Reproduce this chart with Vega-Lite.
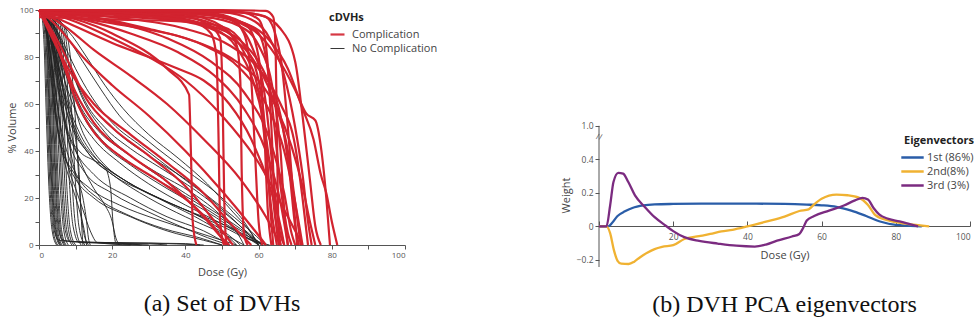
{
  "$schema": "https://vega.github.io/schema/vega-lite/v6.json",
  "background": "white",
  "padding": {"left": 6, "top": 5, "right": 0, "bottom": 8},
  "config": {
    "view": {"stroke": null},
    "font": "Open Sans",
    "axis": {"grid": false, "domainColor": "#555", "tickColor": "#555", "labelColor": "#555", "titleColor": "#444", "labelFont": "Open Sans", "titleFont": "Open Sans", "titleFontWeight": "normal", "labelFontSize": 8, "titleFontSize": 11, "tickSize": 4, "labelPadding": 2},
    "legend": {"labelFont": "Open Sans", "titleFont": "Open Sans", "labelColor": "#444", "titleColor": "#222", "labelFontSize": 11, "titleFontSize": 11, "titleFontWeight": "bold"},
    "title": {"font": "Liberation Serif", "fontSize": 24, "fontWeight": "normal", "color": "#111"}
  },
  "resolve": {"scale": {"color": "independent", "strokeWidth": "independent"}, "legend": {"color": "independent", "strokeWidth": "independent"}},
  "bounds": "flush",
  "spacing": 194,
  "datasets": {
    "dvh": [
{"i":"k1","g":"N","d":0,"v":100},{"i":"k1","g":"N","d":0.8,"v":97},{"i":"k1","g":"N","d":1.4,"v":85},{"i":"k1","g":"N","d":2,"v":55},{"i":"k1","g":"N","d":2.7,"v":25},{"i":"k1","g":"N","d":3.6,"v":6},{"i":"k1","g":"N","d":4.8,"v":0},
{"i":"k2","g":"N","d":0,"v":100},{"i":"k2","g":"N","d":1.1,"v":97},{"i":"k2","g":"N","d":1.7,"v":85},{"i":"k2","g":"N","d":2.3,"v":55},{"i":"k2","g":"N","d":3,"v":25},{"i":"k2","g":"N","d":3.9,"v":6},{"i":"k2","g":"N","d":5.1,"v":0},
{"i":"k3","g":"N","d":0,"v":100},{"i":"k3","g":"N","d":1.4,"v":97},{"i":"k3","g":"N","d":2,"v":85},{"i":"k3","g":"N","d":2.6,"v":55},{"i":"k3","g":"N","d":3.3,"v":25},{"i":"k3","g":"N","d":4.2,"v":6},{"i":"k3","g":"N","d":5.4,"v":2},{"i":"k3","g":"N","d":12,"v":1.2},{"i":"k3","g":"N","d":30,"v":0.8},{"i":"k3","g":"N","d":45,"v":0},
{"i":"k4","g":"N","d":0,"v":100},{"i":"k4","g":"N","d":1.6,"v":97},{"i":"k4","g":"N","d":2.2,"v":85},{"i":"k4","g":"N","d":2.8,"v":55},{"i":"k4","g":"N","d":3.5,"v":25},{"i":"k4","g":"N","d":4.4,"v":6},{"i":"k4","g":"N","d":5.6,"v":0},
{"i":"k5","g":"N","d":0,"v":100},{"i":"k5","g":"N","d":1.8,"v":96},{"i":"k5","g":"N","d":2.4,"v":84},{"i":"k5","g":"N","d":3,"v":55},{"i":"k5","g":"N","d":3.7,"v":25},{"i":"k5","g":"N","d":4.6,"v":6},{"i":"k5","g":"N","d":5.8,"v":0},
{"i":"k6","g":"N","d":0,"v":100},{"i":"k6","g":"N","d":2,"v":97},{"i":"k6","g":"N","d":2.6,"v":85},{"i":"k6","g":"N","d":3.2,"v":55},{"i":"k6","g":"N","d":3.9,"v":25},{"i":"k6","g":"N","d":4.8,"v":6},{"i":"k6","g":"N","d":6,"v":0},
{"i":"k7","g":"N","d":0,"v":100},{"i":"k7","g":"N","d":2.3,"v":96},{"i":"k7","g":"N","d":2.9,"v":85},{"i":"k7","g":"N","d":3.5,"v":55},{"i":"k7","g":"N","d":4.2,"v":25},{"i":"k7","g":"N","d":5.1,"v":6},{"i":"k7","g":"N","d":6.3,"v":0},
{"i":"k8","g":"N","d":0,"v":100},{"i":"k8","g":"N","d":2.6,"v":97},{"i":"k8","g":"N","d":3.2,"v":85},{"i":"k8","g":"N","d":3.8,"v":55},{"i":"k8","g":"N","d":4.5,"v":25},{"i":"k8","g":"N","d":5.4,"v":6},{"i":"k8","g":"N","d":6.6,"v":2},{"i":"k8","g":"N","d":15,"v":1},{"i":"k8","g":"N","d":28,"v":0},
{"i":"k9","g":"N","d":0,"v":100},{"i":"k9","g":"N","d":2.8,"v":96},{"i":"k9","g":"N","d":3.4,"v":85},{"i":"k9","g":"N","d":4,"v":55},{"i":"k9","g":"N","d":4.7,"v":25},{"i":"k9","g":"N","d":5.6,"v":6},{"i":"k9","g":"N","d":6.8,"v":0},
{"i":"k10","g":"N","d":0,"v":100},{"i":"k10","g":"N","d":3,"v":97},{"i":"k10","g":"N","d":3.7,"v":85},{"i":"k10","g":"N","d":4.3,"v":55},{"i":"k10","g":"N","d":5,"v":25},{"i":"k10","g":"N","d":5.9,"v":6},{"i":"k10","g":"N","d":7.1,"v":0},
{"i":"k11","g":"N","d":0,"v":100},{"i":"k11","g":"N","d":3.2,"v":96},{"i":"k11","g":"N","d":4,"v":85},{"i":"k11","g":"N","d":4.6,"v":55},{"i":"k11","g":"N","d":5.3,"v":25},{"i":"k11","g":"N","d":6.2,"v":6},{"i":"k11","g":"N","d":7.4,"v":0},
{"i":"k12","g":"N","d":0,"v":100},{"i":"k12","g":"N","d":3.5,"v":97},{"i":"k12","g":"N","d":4.3,"v":85},{"i":"k12","g":"N","d":5,"v":55},{"i":"k12","g":"N","d":5.8,"v":25},{"i":"k12","g":"N","d":6.8,"v":6},{"i":"k12","g":"N","d":8,"v":0},
{"i":"k13","g":"N","d":0,"v":100},{"i":"k13","g":"N","d":3.8,"v":96},{"i":"k13","g":"N","d":4.7,"v":85},{"i":"k13","g":"N","d":5.4,"v":55},{"i":"k13","g":"N","d":6.2,"v":25},{"i":"k13","g":"N","d":7.2,"v":6},{"i":"k13","g":"N","d":8.5,"v":1.5},{"i":"k13","g":"N","d":20,"v":1},{"i":"k13","g":"N","d":40,"v":0.6},{"i":"k13","g":"N","d":44,"v":0},
{"i":"k14","g":"N","d":0,"v":100},{"i":"k14","g":"N","d":4.2,"v":96},{"i":"k14","g":"N","d":5.1,"v":85},{"i":"k14","g":"N","d":5.8,"v":55},{"i":"k14","g":"N","d":6.6,"v":25},{"i":"k14","g":"N","d":7.6,"v":6},{"i":"k14","g":"N","d":9,"v":0},
{"i":"k15","g":"N","d":0,"v":100},{"i":"k15","g":"N","d":4.5,"v":95},{"i":"k15","g":"N","d":5.5,"v":84},{"i":"k15","g":"N","d":6.3,"v":55},{"i":"k15","g":"N","d":7.1,"v":25},{"i":"k15","g":"N","d":8.1,"v":6},{"i":"k15","g":"N","d":9.5,"v":0},
{"i":"k16","g":"N","d":0,"v":100},{"i":"k16","g":"N","d":5,"v":95},{"i":"k16","g":"N","d":6,"v":83},{"i":"k16","g":"N","d":6.8,"v":55},{"i":"k16","g":"N","d":7.6,"v":25},{"i":"k16","g":"N","d":8.6,"v":6},{"i":"k16","g":"N","d":10,"v":0},
{"i":"k17","g":"N","d":0,"v":100},{"i":"k17","g":"N","d":5.5,"v":95},{"i":"k17","g":"N","d":6.6,"v":82},{"i":"k17","g":"N","d":7.5,"v":55},{"i":"k17","g":"N","d":8.3,"v":27},{"i":"k17","g":"N","d":9.3,"v":8},{"i":"k17","g":"N","d":11,"v":1},{"i":"k17","g":"N","d":30,"v":0.5},{"i":"k17","g":"N","d":35,"v":0},
{"i":"k18","g":"N","d":0,"v":100},{"i":"k18","g":"N","d":6,"v":94},{"i":"k18","g":"N","d":7.2,"v":82},{"i":"k18","g":"N","d":8.2,"v":55},{"i":"k18","g":"N","d":9,"v":28},{"i":"k18","g":"N","d":10,"v":8},{"i":"k18","g":"N","d":11.5,"v":0},
{"i":"k19","g":"N","d":0,"v":100},{"i":"k19","g":"N","d":6.5,"v":94},{"i":"k19","g":"N","d":7.9,"v":80},{"i":"k19","g":"N","d":9,"v":55},{"i":"k19","g":"N","d":9.9,"v":28},{"i":"k19","g":"N","d":10.9,"v":8},{"i":"k19","g":"N","d":12.5,"v":0},
{"i":"k20","g":"N","d":0,"v":100},{"i":"k20","g":"N","d":7,"v":93},{"i":"k20","g":"N","d":8.7,"v":78},{"i":"k20","g":"N","d":10,"v":52},{"i":"k20","g":"N","d":11,"v":25},{"i":"k20","g":"N","d":12,"v":7},{"i":"k20","g":"N","d":13.5,"v":0},
{"i":"b1","g":"N","d":0,"v":100},{"i":"b1","g":"N","d":2,"v":97},{"i":"b1","g":"N","d":4,"v":88},{"i":"b1","g":"N","d":7,"v":70},{"i":"b1","g":"N","d":10,"v":57},{"i":"b1","g":"N","d":15,"v":45},{"i":"b1","g":"N","d":22,"v":35},{"i":"b1","g":"N","d":30,"v":26},{"i":"b1","g":"N","d":40,"v":17},{"i":"b1","g":"N","d":50,"v":9},{"i":"b1","g":"N","d":57,"v":3},{"i":"b1","g":"N","d":61,"v":0},
{"i":"b2","g":"N","d":0,"v":100},{"i":"b2","g":"N","d":2,"v":96},{"i":"b2","g":"N","d":4,"v":85},{"i":"b2","g":"N","d":6,"v":70},{"i":"b2","g":"N","d":9,"v":52},{"i":"b2","g":"N","d":14,"v":38},{"i":"b2","g":"N","d":20,"v":30},{"i":"b2","g":"N","d":30,"v":20},{"i":"b2","g":"N","d":40,"v":12},{"i":"b2","g":"N","d":50,"v":5},{"i":"b2","g":"N","d":56,"v":0},
{"i":"b3","g":"N","d":0,"v":100},{"i":"b3","g":"N","d":2.5,"v":97},{"i":"b3","g":"N","d":5,"v":90},{"i":"b3","g":"N","d":8,"v":78},{"i":"b3","g":"N","d":12,"v":62},{"i":"b3","g":"N","d":18,"v":48},{"i":"b3","g":"N","d":25,"v":38},{"i":"b3","g":"N","d":35,"v":27},{"i":"b3","g":"N","d":45,"v":17},{"i":"b3","g":"N","d":55,"v":7},{"i":"b3","g":"N","d":61,"v":0},
{"i":"b4","g":"N","d":0,"v":100},{"i":"b4","g":"N","d":2,"v":96},{"i":"b4","g":"N","d":3.5,"v":85},{"i":"b4","g":"N","d":5,"v":68},{"i":"b4","g":"N","d":7,"v":52},{"i":"b4","g":"N","d":10,"v":40},{"i":"b4","g":"N","d":15,"v":30},{"i":"b4","g":"N","d":25,"v":20},{"i":"b4","g":"N","d":35,"v":12},{"i":"b4","g":"N","d":45,"v":6},{"i":"b4","g":"N","d":52,"v":0},
{"i":"b5","g":"N","d":0,"v":100},{"i":"b5","g":"N","d":3,"v":95},{"i":"b5","g":"N","d":6,"v":85},{"i":"b5","g":"N","d":10,"v":70},{"i":"b5","g":"N","d":15,"v":58},{"i":"b5","g":"N","d":22,"v":47},{"i":"b5","g":"N","d":30,"v":38},{"i":"b5","g":"N","d":40,"v":28},{"i":"b5","g":"N","d":50,"v":16},{"i":"b5","g":"N","d":57,"v":7},{"i":"b5","g":"N","d":62,"v":0},
{"i":"b6","g":"N","d":0,"v":100},{"i":"b6","g":"N","d":2,"v":95},{"i":"b6","g":"N","d":4,"v":80},{"i":"b6","g":"N","d":6,"v":60},{"i":"b6","g":"N","d":8,"v":45},{"i":"b6","g":"N","d":12,"v":32},{"i":"b6","g":"N","d":20,"v":22},{"i":"b6","g":"N","d":30,"v":14},{"i":"b6","g":"N","d":40,"v":7},{"i":"b6","g":"N","d":48,"v":2},{"i":"b6","g":"N","d":52,"v":0},
{"i":"b7","g":"N","d":0,"v":100},{"i":"b7","g":"N","d":3,"v":96},{"i":"b7","g":"N","d":6,"v":88},{"i":"b7","g":"N","d":10,"v":75},{"i":"b7","g":"N","d":14,"v":64},{"i":"b7","g":"N","d":20,"v":52},{"i":"b7","g":"N","d":28,"v":42},{"i":"b7","g":"N","d":38,"v":30},{"i":"b7","g":"N","d":48,"v":18},{"i":"b7","g":"N","d":55,"v":8},{"i":"b7","g":"N","d":60,"v":0},
{"i":"b8","g":"N","d":0,"v":100},{"i":"b8","g":"N","d":2,"v":94},{"i":"b8","g":"N","d":3.5,"v":75},{"i":"b8","g":"N","d":5,"v":52},{"i":"b8","g":"N","d":7,"v":38},{"i":"b8","g":"N","d":10,"v":28},{"i":"b8","g":"N","d":15,"v":20},{"i":"b8","g":"N","d":25,"v":12},{"i":"b8","g":"N","d":35,"v":6},{"i":"b8","g":"N","d":45,"v":2},{"i":"b8","g":"N","d":50,"v":0},
{"i":"b9","g":"N","d":0,"v":100},{"i":"b9","g":"N","d":2.5,"v":96},{"i":"b9","g":"N","d":5,"v":86},{"i":"b9","g":"N","d":8,"v":70},{"i":"b9","g":"N","d":12,"v":55},{"i":"b9","g":"N","d":17,"v":44},{"i":"b9","g":"N","d":25,"v":34},{"i":"b9","g":"N","d":35,"v":24},{"i":"b9","g":"N","d":45,"v":15},{"i":"b9","g":"N","d":52,"v":8},{"i":"b9","g":"N","d":58,"v":2},{"i":"b9","g":"N","d":60,"v":0},
{"i":"b10","g":"N","d":0,"v":100},{"i":"b10","g":"N","d":3,"v":97},{"i":"b10","g":"N","d":7,"v":90},{"i":"b10","g":"N","d":12,"v":78},{"i":"b10","g":"N","d":17,"v":66},{"i":"b10","g":"N","d":22,"v":55},{"i":"b10","g":"N","d":30,"v":44},{"i":"b10","g":"N","d":40,"v":32},{"i":"b10","g":"N","d":50,"v":20},{"i":"b10","g":"N","d":56,"v":10},{"i":"b10","g":"N","d":60,"v":0},
{"i":"b11","g":"N","d":0,"v":100},{"i":"b11","g":"N","d":2,"v":95},{"i":"b11","g":"N","d":4,"v":82},{"i":"b11","g":"N","d":6,"v":66},{"i":"b11","g":"N","d":9,"v":50},{"i":"b11","g":"N","d":13,"v":40},{"i":"b11","g":"N","d":20,"v":30},{"i":"b11","g":"N","d":30,"v":22},{"i":"b11","g":"N","d":40,"v":15},{"i":"b11","g":"N","d":50,"v":8},{"i":"b11","g":"N","d":58,"v":2},{"i":"b11","g":"N","d":63,"v":0},
{"i":"b12","g":"N","d":0,"v":100},{"i":"b12","g":"N","d":2,"v":93},{"i":"b12","g":"N","d":3,"v":75},{"i":"b12","g":"N","d":4.5,"v":55},{"i":"b12","g":"N","d":6,"v":42},{"i":"b12","g":"N","d":9,"v":32},{"i":"b12","g":"N","d":14,"v":24},{"i":"b12","g":"N","d":22,"v":17},{"i":"b12","g":"N","d":32,"v":11},{"i":"b12","g":"N","d":42,"v":6},{"i":"b12","g":"N","d":50,"v":2},{"i":"b12","g":"N","d":54,"v":0},
{"i":"b13","g":"N","d":0,"v":100},{"i":"b13","g":"N","d":3,"v":96},{"i":"b13","g":"N","d":6,"v":87},{"i":"b13","g":"N","d":9,"v":74},{"i":"b13","g":"N","d":13,"v":60},{"i":"b13","g":"N","d":18,"v":50},{"i":"b13","g":"N","d":25,"v":41},{"i":"b13","g":"N","d":33,"v":33},{"i":"b13","g":"N","d":43,"v":23},{"i":"b13","g":"N","d":52,"v":12},{"i":"b13","g":"N","d":58,"v":4},{"i":"b13","g":"N","d":61,"v":0},
{"i":"b14","g":"N","d":0,"v":100},{"i":"b14","g":"N","d":2,"v":96},{"i":"b14","g":"N","d":5,"v":86},{"i":"b14","g":"N","d":8,"v":72},{"i":"b14","g":"N","d":11,"v":60},{"i":"b14","g":"N","d":16,"v":49},{"i":"b14","g":"N","d":23,"v":40},{"i":"b14","g":"N","d":32,"v":31},{"i":"b14","g":"N","d":42,"v":22},{"i":"b14","g":"N","d":50,"v":12},{"i":"b14","g":"N","d":55,"v":3},{"i":"b14","g":"N","d":56,"v":0},
{"i":"b15","g":"N","d":0,"v":100},{"i":"b15","g":"N","d":2.5,"v":95},{"i":"b15","g":"N","d":4,"v":84},{"i":"b15","g":"N","d":6,"v":70},{"i":"b15","g":"N","d":8,"v":58},{"i":"b15","g":"N","d":11,"v":46},{"i":"b15","g":"N","d":16,"v":36},{"i":"b15","g":"N","d":24,"v":27},{"i":"b15","g":"N","d":34,"v":19},{"i":"b15","g":"N","d":44,"v":12},{"i":"b15","g":"N","d":52,"v":4},{"i":"b15","g":"N","d":55,"v":0},
{"i":"b16","g":"N","d":0,"v":100},{"i":"b16","g":"N","d":3,"v":97},{"i":"b16","g":"N","d":8,"v":91},{"i":"b16","g":"N","d":13,"v":80},{"i":"b16","g":"N","d":18,"v":68},{"i":"b16","g":"N","d":23,"v":58},{"i":"b16","g":"N","d":30,"v":47},{"i":"b16","g":"N","d":38,"v":37},{"i":"b16","g":"N","d":46,"v":26},{"i":"b16","g":"N","d":53,"v":14},{"i":"b16","g":"N","d":58,"v":5},{"i":"b16","g":"N","d":60,"v":0},
{"i":"b17","g":"N","d":0,"v":100},{"i":"b17","g":"N","d":2,"v":95},{"i":"b17","g":"N","d":4,"v":85},{"i":"b17","g":"N","d":6,"v":72},{"i":"b17","g":"N","d":8,"v":60},{"i":"b17","g":"N","d":11,"v":48},{"i":"b17","g":"N","d":15,"v":38},{"i":"b17","g":"N","d":22,"v":29},{"i":"b17","g":"N","d":30,"v":22},{"i":"b17","g":"N","d":40,"v":15},{"i":"b17","g":"N","d":50,"v":9},{"i":"b17","g":"N","d":58,"v":3},{"i":"b17","g":"N","d":62,"v":0},
{"i":"b18","g":"N","d":0,"v":100},{"i":"b18","g":"N","d":3,"v":96},{"i":"b18","g":"N","d":5,"v":88},{"i":"b18","g":"N","d":7,"v":76},{"i":"b18","g":"N","d":9,"v":64},{"i":"b18","g":"N","d":11,"v":52},{"i":"b18","g":"N","d":14,"v":42},{"i":"b18","g":"N","d":18,"v":34},{"i":"b18","g":"N","d":25,"v":26},{"i":"b18","g":"N","d":35,"v":18},{"i":"b18","g":"N","d":45,"v":10},{"i":"b18","g":"N","d":52,"v":3},{"i":"b18","g":"N","d":54,"v":0},
{"i":"b19","g":"N","d":0,"v":100},{"i":"b19","g":"N","d":2,"v":96},{"i":"b19","g":"N","d":4,"v":88},{"i":"b19","g":"N","d":6,"v":78},{"i":"b19","g":"N","d":9,"v":66},{"i":"b19","g":"N","d":12,"v":56},{"i":"b19","g":"N","d":17,"v":45},{"i":"b19","g":"N","d":24,"v":36},{"i":"b19","g":"N","d":32,"v":28},{"i":"b19","g":"N","d":42,"v":19},{"i":"b19","g":"N","d":50,"v":11},{"i":"b19","g":"N","d":57,"v":4},{"i":"b19","g":"N","d":60,"v":0},
{"i":"b20","g":"N","d":0,"v":100},{"i":"b20","g":"N","d":1.5,"v":95},{"i":"b20","g":"N","d":3,"v":82},{"i":"b20","g":"N","d":4.5,"v":65},{"i":"b20","g":"N","d":6,"v":50},{"i":"b20","g":"N","d":8,"v":38},{"i":"b20","g":"N","d":11,"v":28},{"i":"b20","g":"N","d":16,"v":20},{"i":"b20","g":"N","d":24,"v":13},{"i":"b20","g":"N","d":34,"v":7},{"i":"b20","g":"N","d":44,"v":3},{"i":"b20","g":"N","d":50,"v":0},
{"i":"c1","g":"N","d":0,"v":100},{"i":"c1","g":"N","d":2,"v":96},{"i":"c1","g":"N","d":4,"v":85},{"i":"c1","g":"N","d":6,"v":65},{"i":"c1","g":"N","d":8,"v":45},{"i":"c1","g":"N","d":10,"v":30},{"i":"c1","g":"N","d":12,"v":20},{"i":"c1","g":"N","d":13,"v":10},{"i":"c1","g":"N","d":13.5,"v":3},{"i":"c1","g":"N","d":14,"v":0},
{"i":"c2","g":"N","d":0,"v":100},{"i":"c2","g":"N","d":2,"v":95},{"i":"c2","g":"N","d":4,"v":82},{"i":"c2","g":"N","d":6,"v":62},{"i":"c2","g":"N","d":8,"v":48},{"i":"c2","g":"N","d":11,"v":40},{"i":"c2","g":"N","d":15,"v":36},{"i":"c2","g":"N","d":18,"v":33},{"i":"c2","g":"N","d":19.5,"v":25},{"i":"c2","g":"N","d":20.3,"v":8},{"i":"c2","g":"N","d":21,"v":1},{"i":"c2","g":"N","d":30,"v":0},
{"i":"c3","g":"N","d":0,"v":100},{"i":"c3","g":"N","d":3,"v":94},{"i":"c3","g":"N","d":5,"v":80},{"i":"c3","g":"N","d":7,"v":62},{"i":"c3","g":"N","d":9,"v":46},{"i":"c3","g":"N","d":12,"v":33},{"i":"c3","g":"N","d":15,"v":24},{"i":"c3","g":"N","d":18,"v":17},{"i":"c3","g":"N","d":20,"v":10},{"i":"c3","g":"N","d":21,"v":3},{"i":"c3","g":"N","d":22,"v":0},
{"i":"c4","g":"N","d":0,"v":100},{"i":"c4","g":"N","d":2,"v":93},{"i":"c4","g":"N","d":4,"v":72},{"i":"c4","g":"N","d":6,"v":48},{"i":"c4","g":"N","d":8,"v":33},{"i":"c4","g":"N","d":10,"v":24},{"i":"c4","g":"N","d":12,"v":15},{"i":"c4","g":"N","d":14,"v":6},{"i":"c4","g":"N","d":16,"v":1},{"i":"c4","g":"N","d":25,"v":0},
{"i":"c5","g":"N","d":0,"v":100},{"i":"c5","g":"N","d":2,"v":90},{"i":"c5","g":"N","d":3.5,"v":70},{"i":"c5","g":"N","d":5,"v":50},{"i":"c5","g":"N","d":7,"v":35},{"i":"c5","g":"N","d":9,"v":25},{"i":"c5","g":"N","d":11,"v":15},{"i":"c5","g":"N","d":12.5,"v":5},{"i":"c5","g":"N","d":13,"v":0},
{"i":"c6","g":"N","d":0,"v":100},{"i":"c6","g":"N","d":2.5,"v":95},{"i":"c6","g":"N","d":5,"v":85},{"i":"c6","g":"N","d":7,"v":70},{"i":"c6","g":"N","d":9,"v":55},{"i":"c6","g":"N","d":10,"v":45},{"i":"c6","g":"N","d":11,"v":30},{"i":"c6","g":"N","d":11.6,"v":10},{"i":"c6","g":"N","d":12,"v":0},
{"i":"r1","g":"C","d":0,"v":100},{"i":"r1","g":"C","d":50,"v":100},{"i":"r1","g":"C","d":62,"v":99.6},{"i":"r1","g":"C","d":64,"v":97},{"i":"r1","g":"C","d":64.6,"v":85},{"i":"r1","g":"C","d":65,"v":50},{"i":"r1","g":"C","d":65.4,"v":10},{"i":"r1","g":"C","d":66,"v":0},
{"i":"r2","g":"C","d":0,"v":100},{"i":"r2","g":"C","d":40,"v":99.5},{"i":"r2","g":"C","d":55,"v":99},{"i":"r2","g":"C","d":60,"v":96},{"i":"r2","g":"C","d":62,"v":85},{"i":"r2","g":"C","d":63.5,"v":50},{"i":"r2","g":"C","d":64.5,"v":15},{"i":"r2","g":"C","d":65.5,"v":0},
{"i":"r3","g":"C","d":0,"v":100},{"i":"r3","g":"C","d":30,"v":99},{"i":"r3","g":"C","d":50,"v":97.5},{"i":"r3","g":"C","d":57,"v":93},{"i":"r3","g":"C","d":60,"v":80},{"i":"r3","g":"C","d":61.5,"v":50},{"i":"r3","g":"C","d":62.5,"v":15},{"i":"r3","g":"C","d":63.5,"v":0},
{"i":"r4","g":"C","d":0,"v":100},{"i":"r4","g":"C","d":40,"v":99},{"i":"r4","g":"C","d":52,"v":96},{"i":"r4","g":"C","d":58,"v":85},{"i":"r4","g":"C","d":62,"v":60},{"i":"r4","g":"C","d":64,"v":30},{"i":"r4","g":"C","d":65.5,"v":8},{"i":"r4","g":"C","d":67,"v":0},
{"i":"r5","g":"C","d":0,"v":99},{"i":"r5","g":"C","d":45,"v":97},{"i":"r5","g":"C","d":55,"v":93},{"i":"r5","g":"C","d":60,"v":85},{"i":"r5","g":"C","d":64,"v":65},{"i":"r5","g":"C","d":66,"v":40},{"i":"r5","g":"C","d":67,"v":15},{"i":"r5","g":"C","d":68,"v":0},
{"i":"r6","g":"C","d":0,"v":100},{"i":"r6","g":"C","d":30,"v":98},{"i":"r6","g":"C","d":45,"v":94},{"i":"r6","g":"C","d":55,"v":87},{"i":"r6","g":"C","d":62,"v":72},{"i":"r6","g":"C","d":66,"v":55},{"i":"r6","g":"C","d":68.5,"v":30},{"i":"r6","g":"C","d":70,"v":8},{"i":"r6","g":"C","d":71,"v":0},
{"i":"r7","g":"C","d":0,"v":100},{"i":"r7","g":"C","d":20,"v":97},{"i":"r7","g":"C","d":40,"v":92},{"i":"r7","g":"C","d":52,"v":85},{"i":"r7","g":"C","d":60,"v":75},{"i":"r7","g":"C","d":66,"v":60},{"i":"r7","g":"C","d":70,"v":42},{"i":"r7","g":"C","d":72,"v":20},{"i":"r7","g":"C","d":73.5,"v":0},
{"i":"r8","g":"C","d":0,"v":100},{"i":"r8","g":"C","d":40,"v":99},{"i":"r8","g":"C","d":55,"v":95},{"i":"r8","g":"C","d":63,"v":87},{"i":"r8","g":"C","d":68,"v":75},{"i":"r8","g":"C","d":72,"v":58},{"i":"r8","g":"C","d":75,"v":45},{"i":"r8","g":"C","d":77,"v":30},{"i":"r8","g":"C","d":78.5,"v":22},{"i":"r8","g":"C","d":80,"v":10},{"i":"r8","g":"C","d":81.5,"v":0},
{"i":"r9","g":"C","d":0,"v":100},{"i":"r9","g":"C","d":45,"v":98},{"i":"r9","g":"C","d":58,"v":92},{"i":"r9","g":"C","d":65,"v":80},{"i":"r9","g":"C","d":70,"v":66},{"i":"r9","g":"C","d":73,"v":56},{"i":"r9","g":"C","d":75.5,"v":53},{"i":"r9","g":"C","d":77,"v":42},{"i":"r9","g":"C","d":78.5,"v":20},{"i":"r9","g":"C","d":79.5,"v":0},
{"i":"r10","g":"C","d":0,"v":100},{"i":"r10","g":"C","d":50,"v":99},{"i":"r10","g":"C","d":58,"v":96},{"i":"r10","g":"C","d":63,"v":88},{"i":"r10","g":"C","d":67,"v":72},{"i":"r10","g":"C","d":70,"v":50},{"i":"r10","g":"C","d":72,"v":30},{"i":"r10","g":"C","d":73.5,"v":10},{"i":"r10","g":"C","d":74.5,"v":0},
{"i":"r11","g":"C","d":0,"v":98},{"i":"r11","g":"C","d":35,"v":96},{"i":"r11","g":"C","d":50,"v":90},{"i":"r11","g":"C","d":58,"v":80},{"i":"r11","g":"C","d":64,"v":62},{"i":"r11","g":"C","d":68,"v":40},{"i":"r11","g":"C","d":70,"v":18},{"i":"r11","g":"C","d":71.5,"v":0},
{"i":"r12","g":"C","d":0,"v":100},{"i":"r12","g":"C","d":30,"v":98},{"i":"r12","g":"C","d":42,"v":95},{"i":"r12","g":"C","d":47,"v":90},{"i":"r12","g":"C","d":48.5,"v":80},{"i":"r12","g":"C","d":49,"v":50},{"i":"r12","g":"C","d":49.5,"v":10},{"i":"r12","g":"C","d":50.5,"v":0},
{"i":"r13","g":"C","d":0,"v":99},{"i":"r13","g":"C","d":40,"v":97},{"i":"r13","g":"C","d":46,"v":94},{"i":"r13","g":"C","d":49.5,"v":88},{"i":"r13","g":"C","d":50.2,"v":60},{"i":"r13","g":"C","d":50.6,"v":20},{"i":"r13","g":"C","d":51.2,"v":0},
{"i":"r14","g":"C","d":0,"v":100},{"i":"r14","g":"C","d":40,"v":98},{"i":"r14","g":"C","d":50,"v":93},{"i":"r14","g":"C","d":54,"v":85},{"i":"r14","g":"C","d":55,"v":70},{"i":"r14","g":"C","d":55.4,"v":30},{"i":"r14","g":"C","d":56,"v":5},{"i":"r14","g":"C","d":57,"v":0},
{"i":"r15","g":"C","d":0,"v":100},{"i":"r15","g":"C","d":20,"v":90},{"i":"r15","g":"C","d":35,"v":75},{"i":"r15","g":"C","d":41,"v":64},{"i":"r15","g":"C","d":41.5,"v":40},{"i":"r15","g":"C","d":42,"v":10},{"i":"r15","g":"C","d":43,"v":0},
{"i":"r16","g":"C","d":0,"v":100},{"i":"r16","g":"C","d":10,"v":95},{"i":"r16","g":"C","d":20,"v":88},{"i":"r16","g":"C","d":30,"v":80},{"i":"r16","g":"C","d":40,"v":70},{"i":"r16","g":"C","d":50,"v":55},{"i":"r16","g":"C","d":60,"v":35},{"i":"r16","g":"C","d":68,"v":12},{"i":"r16","g":"C","d":72,"v":0},
{"i":"r17","g":"C","d":0,"v":100},{"i":"r17","g":"C","d":8,"v":92},{"i":"r17","g":"C","d":15,"v":83},{"i":"r17","g":"C","d":25,"v":72},{"i":"r17","g":"C","d":35,"v":60},{"i":"r17","g":"C","d":45,"v":45},{"i":"r17","g":"C","d":55,"v":28},{"i":"r17","g":"C","d":62,"v":12},{"i":"r17","g":"C","d":66,"v":0},
{"i":"r18","g":"C","d":0,"v":100},{"i":"r18","g":"C","d":5,"v":93},{"i":"r18","g":"C","d":12,"v":80},{"i":"r18","g":"C","d":20,"v":68},{"i":"r18","g":"C","d":30,"v":55},{"i":"r18","g":"C","d":40,"v":40},{"i":"r18","g":"C","d":50,"v":23},{"i":"r18","g":"C","d":58,"v":8},{"i":"r18","g":"C","d":62,"v":0},
{"i":"r19","g":"C","d":0,"v":100},{"i":"r19","g":"C","d":3,"v":90},{"i":"r19","g":"C","d":8,"v":75},{"i":"r19","g":"C","d":15,"v":60},{"i":"r19","g":"C","d":25,"v":47},{"i":"r19","g":"C","d":35,"v":35},{"i":"r19","g":"C","d":45,"v":22},{"i":"r19","g":"C","d":53,"v":8},{"i":"r19","g":"C","d":58,"v":0},
{"i":"r20","g":"C","d":0,"v":100},{"i":"r20","g":"C","d":2,"v":95},{"i":"r20","g":"C","d":5,"v":85},{"i":"r20","g":"C","d":10,"v":65},{"i":"r20","g":"C","d":15,"v":52},{"i":"r20","g":"C","d":25,"v":38},{"i":"r20","g":"C","d":35,"v":27},{"i":"r20","g":"C","d":45,"v":12},{"i":"r20","g":"C","d":50,"v":3},{"i":"r20","g":"C","d":52,"v":0},
{"i":"r21","g":"C","d":0,"v":100},{"i":"r21","g":"C","d":4,"v":90},{"i":"r21","g":"C","d":8,"v":78},{"i":"r21","g":"C","d":13,"v":62},{"i":"r21","g":"C","d":20,"v":50},{"i":"r21","g":"C","d":30,"v":38},{"i":"r21","g":"C","d":40,"v":25},{"i":"r21","g":"C","d":48,"v":10},{"i":"r21","g":"C","d":53,"v":0},
{"i":"r22","g":"C","d":0,"v":100},{"i":"r22","g":"C","d":3,"v":92},{"i":"r22","g":"C","d":6,"v":80},{"i":"r22","g":"C","d":10,"v":62},{"i":"r22","g":"C","d":15,"v":48},{"i":"r22","g":"C","d":22,"v":38},{"i":"r22","g":"C","d":32,"v":28},{"i":"r22","g":"C","d":42,"v":17},{"i":"r22","g":"C","d":49,"v":5},{"i":"r22","g":"C","d":51,"v":0},
{"i":"r23","g":"C","d":0,"v":100},{"i":"r23","g":"C","d":15,"v":97},{"i":"r23","g":"C","d":30,"v":92},{"i":"r23","g":"C","d":45,"v":85},{"i":"r23","g":"C","d":55,"v":75},{"i":"r23","g":"C","d":62,"v":60},{"i":"r23","g":"C","d":67,"v":40},{"i":"r23","g":"C","d":70,"v":18},{"i":"r23","g":"C","d":72,"v":0},
{"i":"r24","g":"C","d":0,"v":100},{"i":"r24","g":"C","d":20,"v":95},{"i":"r24","g":"C","d":35,"v":88},{"i":"r24","g":"C","d":47,"v":78},{"i":"r24","g":"C","d":56,"v":65},{"i":"r24","g":"C","d":63,"v":45},{"i":"r24","g":"C","d":67,"v":22},{"i":"r24","g":"C","d":69,"v":5},{"i":"r24","g":"C","d":70,"v":0},
{"i":"r25","g":"C","d":0,"v":100},{"i":"r25","g":"C","d":10,"v":93},{"i":"r25","g":"C","d":20,"v":86},{"i":"r25","g":"C","d":30,"v":80},{"i":"r25","g":"C","d":38,"v":75},{"i":"r25","g":"C","d":45,"v":70},{"i":"r25","g":"C","d":52,"v":60},{"i":"r25","g":"C","d":58,"v":45},{"i":"r25","g":"C","d":63,"v":25},{"i":"r25","g":"C","d":66,"v":8},{"i":"r25","g":"C","d":67,"v":0},
{"i":"r26","g":"C","d":0,"v":100},{"i":"r26","g":"C","d":12,"v":96},{"i":"r26","g":"C","d":25,"v":90},{"i":"r26","g":"C","d":38,"v":82},{"i":"r26","g":"C","d":48,"v":72},{"i":"r26","g":"C","d":56,"v":58},{"i":"r26","g":"C","d":62,"v":40},{"i":"r26","g":"C","d":66,"v":18},{"i":"r26","g":"C","d":68,"v":0},
{"i":"r27","g":"C","d":0,"v":100},{"i":"r27","g":"C","d":25,"v":99},{"i":"r27","g":"C","d":45,"v":98},{"i":"r27","g":"C","d":55,"v":95},{"i":"r27","g":"C","d":60,"v":90},{"i":"r27","g":"C","d":62,"v":80},{"i":"r27","g":"C","d":64,"v":55},{"i":"r27","g":"C","d":66,"v":25},{"i":"r27","g":"C","d":68,"v":5},{"i":"r27","g":"C","d":69,"v":0},
{"i":"r28","g":"C","d":0,"v":100},{"i":"r28","g":"C","d":30,"v":99.5},{"i":"r28","g":"C","d":55,"v":99},{"i":"r28","g":"C","d":62,"v":97},{"i":"r28","g":"C","d":66,"v":80},{"i":"r28","g":"C","d":68,"v":50},{"i":"r28","g":"C","d":69.5,"v":20},{"i":"r28","g":"C","d":70.5,"v":0},
{"i":"r29","g":"C","d":0,"v":97},{"i":"r29","g":"C","d":20,"v":96},{"i":"r29","g":"C","d":40,"v":95},{"i":"r29","g":"C","d":50,"v":93},{"i":"r29","g":"C","d":56,"v":85},{"i":"r29","g":"C","d":60,"v":70},{"i":"r29","g":"C","d":62,"v":45},{"i":"r29","g":"C","d":63,"v":20},{"i":"r29","g":"C","d":64,"v":0},
{"i":"r30","g":"C","d":0,"v":100},{"i":"r30","g":"C","d":45,"v":99},{"i":"r30","g":"C","d":52,"v":97},{"i":"r30","g":"C","d":56,"v":90},{"i":"r30","g":"C","d":58,"v":70},{"i":"r30","g":"C","d":59,"v":40},{"i":"r30","g":"C","d":60,"v":10},{"i":"r30","g":"C","d":61,"v":0},
{"i":"r31","g":"C","d":0,"v":100},{"i":"r31","g":"C","d":40,"v":97},{"i":"r31","g":"C","d":50,"v":92},{"i":"r31","g":"C","d":56,"v":82},{"i":"r31","g":"C","d":60,"v":65},{"i":"r31","g":"C","d":62,"v":40},{"i":"r31","g":"C","d":63.5,"v":15},{"i":"r31","g":"C","d":65,"v":0},
{"i":"r32","g":"C","d":0,"v":99},{"i":"r32","g":"C","d":20,"v":98},{"i":"r32","g":"C","d":38,"v":96},{"i":"r32","g":"C","d":48,"v":92},{"i":"r32","g":"C","d":54,"v":84},{"i":"r32","g":"C","d":58,"v":72},{"i":"r32","g":"C","d":61,"v":55},{"i":"r32","g":"C","d":63,"v":35},{"i":"r32","g":"C","d":64.5,"v":12},{"i":"r32","g":"C","d":66,"v":0},
{"i":"r33","g":"C","d":0,"v":100},{"i":"r33","g":"C","d":10,"v":97},{"i":"r33","g":"C","d":25,"v":93},{"i":"r33","g":"C","d":40,"v":88},{"i":"r33","g":"C","d":52,"v":80},{"i":"r33","g":"C","d":60,"v":70},{"i":"r33","g":"C","d":65,"v":58},{"i":"r33","g":"C","d":69,"v":42},{"i":"r33","g":"C","d":72,"v":25},{"i":"r33","g":"C","d":74,"v":10},{"i":"r33","g":"C","d":75.5,"v":0},
{"i":"r34","g":"C","d":0,"v":100},{"i":"r34","g":"C","d":50,"v":99.5},{"i":"r34","g":"C","d":60,"v":98},{"i":"r34","g":"C","d":66,"v":92},{"i":"r34","g":"C","d":70,"v":78},{"i":"r34","g":"C","d":72,"v":55},{"i":"r34","g":"C","d":74,"v":28},{"i":"r34","g":"C","d":75.5,"v":8},{"i":"r34","g":"C","d":77,"v":0}
    ],
    "eig": [
{"s":"1st (86%)","d":0,"w":0},{"s":"1st (86%)","d":2.5,"w":0},{"s":"1st (86%)","d":3.5,"w":0.02},{"s":"1st (86%)","d":5,"w":0.062},{"s":"1st (86%)","d":7,"w":0.09},{"s":"1st (86%)","d":9,"w":0.11},{"s":"1st (86%)","d":12,"w":0.125},{"s":"1st (86%)","d":15,"w":0.131},{"s":"1st (86%)","d":20,"w":0.134},{"s":"1st (86%)","d":30,"w":0.136},{"s":"1st (86%)","d":40,"w":0.136},{"s":"1st (86%)","d":50,"w":0.134},{"s":"1st (86%)","d":56,"w":0.13},{"s":"1st (86%)","d":60,"w":0.126},{"s":"1st (86%)","d":64,"w":0.117},{"s":"1st (86%)","d":68,"w":0.094},{"s":"1st (86%)","d":72,"w":0.062},{"s":"1st (86%)","d":76,"w":0.028},{"s":"1st (86%)","d":80,"w":0.009},{"s":"1st (86%)","d":84,"w":0.004},{"s":"1st (86%)","d":87,"w":0.001},
{"s":"2nd(8%)","d":0,"w":0},{"s":"2nd(8%)","d":2,"w":0},{"s":"2nd(8%)","d":3,"w":-0.04},{"s":"2nd(8%)","d":4,"w":-0.14},{"s":"2nd(8%)","d":5,"w":-0.205},{"s":"2nd(8%)","d":6,"w":-0.222},{"s":"2nd(8%)","d":8,"w":-0.224},{"s":"2nd(8%)","d":9.5,"w":-0.21},{"s":"2nd(8%)","d":11,"w":-0.185},{"s":"2nd(8%)","d":13,"w":-0.157},{"s":"2nd(8%)","d":15,"w":-0.135},{"s":"2nd(8%)","d":17,"w":-0.122},{"s":"2nd(8%)","d":20,"w":-0.112},{"s":"2nd(8%)","d":23,"w":-0.075},{"s":"2nd(8%)","d":27,"w":-0.058},{"s":"2nd(8%)","d":30,"w":-0.045},{"s":"2nd(8%)","d":33,"w":-0.03},{"s":"2nd(8%)","d":36,"w":-0.02},{"s":"2nd(8%)","d":40,"w":0},{"s":"2nd(8%)","d":45,"w":0.028},{"s":"2nd(8%)","d":50,"w":0.058},{"s":"2nd(8%)","d":54,"w":0.092},{"s":"2nd(8%)","d":56.5,"w":0.102},{"s":"2nd(8%)","d":58,"w":0.132},{"s":"2nd(8%)","d":60,"w":0.165},{"s":"2nd(8%)","d":64,"w":0.19},{"s":"2nd(8%)","d":67,"w":0.186},{"s":"2nd(8%)","d":70,"w":0.172},{"s":"2nd(8%)","d":72.5,"w":0.128},{"s":"2nd(8%)","d":74.5,"w":0.068},{"s":"2nd(8%)","d":78,"w":0.036},{"s":"2nd(8%)","d":82,"w":0.018},{"s":"2nd(8%)","d":86,"w":0.008},{"s":"2nd(8%)","d":89,"w":0},
{"s":"3rd (3%)","d":0,"w":0},{"s":"3rd (3%)","d":2,"w":0},{"s":"3rd (3%)","d":3,"w":0.125},{"s":"3rd (3%)","d":3.9,"w":0.265},{"s":"3rd (3%)","d":5.2,"w":0.32},{"s":"3rd (3%)","d":6.5,"w":0.315},{"s":"3rd (3%)","d":7.9,"w":0.265},{"s":"3rd (3%)","d":9.7,"w":0.185},{"s":"3rd (3%)","d":12.4,"w":0.115},{"s":"3rd (3%)","d":15,"w":0.055},{"s":"3rd (3%)","d":18,"w":0.004},{"s":"3rd (3%)","d":20,"w":-0.028},{"s":"3rd (3%)","d":23,"w":-0.064},{"s":"3rd (3%)","d":27,"w":-0.086},{"s":"3rd (3%)","d":32,"w":-0.102},{"s":"3rd (3%)","d":37,"w":-0.115},{"s":"3rd (3%)","d":42,"w":-0.12},{"s":"3rd (3%)","d":45,"w":-0.108},{"s":"3rd (3%)","d":48,"w":-0.085},{"s":"3rd (3%)","d":52,"w":-0.06},{"s":"3rd (3%)","d":54,"w":-0.045},{"s":"3rd (3%)","d":55,"w":-0.01},{"s":"3rd (3%)","d":56,"w":0.035},{"s":"3rd (3%)","d":58,"w":0.062},{"s":"3rd (3%)","d":62,"w":0.094},{"s":"3rd (3%)","d":66,"w":0.125},{"s":"3rd (3%)","d":69,"w":0.155},{"s":"3rd (3%)","d":71,"w":0.17},{"s":"3rd (3%)","d":72.5,"w":0.16},{"s":"3rd (3%)","d":74,"w":0.11},{"s":"3rd (3%)","d":75.5,"w":0.072},{"s":"3rd (3%)","d":78,"w":0.045},{"s":"3rd (3%)","d":81,"w":0.03},{"s":"3rd (3%)","d":84,"w":0.012},{"s":"3rd (3%)","d":86,"w":0}
    ],
    "yline": [{"d":0,"w":-0.242,"w2":0.6}],
    "brk": [{"d":0,"w":0.53,"t":"//"}]
  },
  "hconcat": [
    {
      "width": 366,
      "height": 235,
      "data": {"name": "dvh"},
      "title": {"text": "(a) Set of DVHs", "orient": "bottom", "anchor": "middle", "offset": 15},
      "encoding": {
        "x": {"field": "d", "type": "quantitative", "scale": {"domain": [0, 100], "nice": false},
              "axis": {"title": "Dose (Gy)", "values": [0,10,20,30,40,50,60,70,80,90,100], "labelExpr": "datum.value % 20 == 0 ? datum.label : ''", "titlePadding": 7}},
        "y": {"field": "v", "type": "quantitative", "scale": {"domain": [0, 100], "nice": false},
              "axis": {"title": "% Volume", "values": [0,10,20,30,40,50,60,70,80,90,100], "labelExpr": "datum.value % 20 == 0 ? datum.label : ''", "titlePadding": 2}},
        "color": {"field": "g", "type": "nominal", "scale": {"domain": ["C", "N"], "range": ["#d2232f", "#222222"]},
                  "legend": {"title": "cDVHs", "orient": "none", "legendX": 290, "legendY": 2, "symbolType": "stroke", "symbolSize": 196, "labelExpr": "datum.label == 'C' ? 'Complication' : 'No Complication'", "rowPadding": 1, "titlePadding": 3, "labelOffset": 6}},
        "strokeWidth": {"field": "g", "type": "nominal", "scale": {"domain": ["C", "N"], "range": [2.2, 1]},
                  "legend": {"title": "cDVHs", "orient": "none", "legendX": 290, "legendY": 2, "symbolType": "stroke", "symbolSize": 196, "labelExpr": "datum.label == 'C' ? 'Complication' : 'No Complication'", "rowPadding": 1, "titlePadding": 3, "labelOffset": 6}},
        "detail": {"field": "i"}
      },
      "layer": [
        {"transform": [{"filter": "datum.g == 'N'"}], "mark": {"type": "line", "interpolate": "monotone", "opacity": 0.9}},
        {"transform": [{"filter": "datum.g == 'C'"}], "mark": {"type": "line", "interpolate": "monotone"}}
      ]
    },
    {
      "width": 371,
      "height": 257,
      "title": {"text": "(b) DVH PCA eigenvectors", "orient": "bottom", "anchor": "middle", "offset": 24},
      "layer": [
        {
          "data": {"name": "yline"},
          "mark": {"type": "rule", "color": "#555", "strokeWidth": 1},
          "encoding": {
            "x": {"field": "d", "type": "quantitative"},
            "y": {"field": "w", "type": "quantitative"},
            "y2": {"field": "w2"}
          }
        },
        {
          "data": {"name": "brk"},
          "mark": {"type": "text", "color": "#555", "fontSize": 8, "font": "Open Sans", "angle": 10},
          "encoding": {
            "x": {"field": "d", "type": "quantitative"},
            "y": {"field": "w", "type": "quantitative"},
            "text": {"field": "t"}
          }
        },
        {
          "data": {"name": "eig"},
          "mark": {"type": "line", "interpolate": "monotone", "strokeWidth": 2.3},
          "encoding": {
            "x": {"field": "d", "type": "quantitative", "scale": {"domain": [0, 100], "nice": false},
                  "axis": {"title": "Dose (Gy)", "values": [0,10,20,30,40,50,60,70,80,90,100], "labelExpr": "datum.value % 20 == 0 && datum.value > 0 ? datum.label : ''", "offset": -41, "tickSize": -5, "labelPadding": 11, "titlePadding": 9, "labelFlush": true, "labelFontSize": 8.5}},
            "y": {"field": "w", "type": "quantitative", "scale": {"domain": [-0.242, 1.291], "nice": false, "zero": false},
                  "axis": {"title": "Weight", "values": [-0.2, 0, 0.2, 0.4, 0.6], "labelExpr": "datum.value > 0.5 ? '1.0' : datum.value == 0 ? '0' : format(datum.value, '.1f')", "domain": false, "titleY": 185, "titleX": -28, "labelFontSize": 8.5}},
            "color": {"field": "s", "type": "nominal", "scale": {"domain": ["1st (86%)", "2nd(8%)", "3rd (3%)"], "range": ["#2a5da8", "#f0b232", "#7b2b80"]},
                      "legend": {"title": "Eigenvectors", "orient": "none", "legendX": 305, "legendY": 125, "symbolType": "M-1.6,0H1.6", "symbolSize": 196, "symbolStrokeWidth": 2.5, "rowPadding": 0, "titlePadding": 3, "labelOffset": 6}}
          }
        }
      ]
    }
  ]
}
